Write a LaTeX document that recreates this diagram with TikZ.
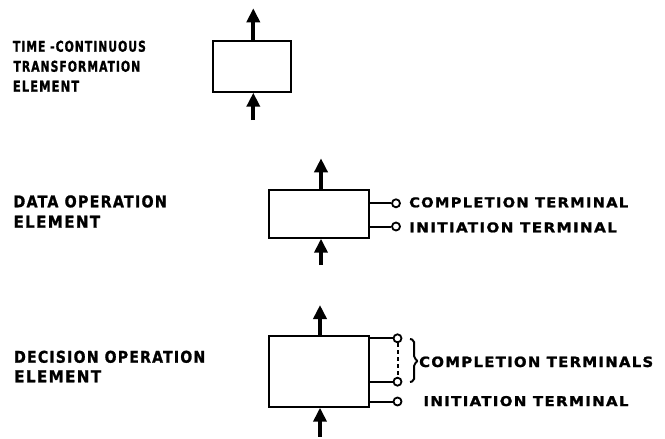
\documentclass[tikz,border=0pt]{standalone}
\usepackage{fontspec}
\usepackage{graphicx}
\usetikzlibrary{arrows.meta}
\newfontfamily\lettering{DejaVu Sans Condensed}[LetterSpace=8,FakeBold=1.2]
% stencil-style caption set to a given width and cap height
\newcommand\stencil[3]{\resizebox{#1}{#2}{\lettering\bfseries #3}}
\begin{document}
\begin{tikzpicture}[x=1pt,y=-1pt,
  element/.style={draw, line width=2pt, inner sep=0pt, minimum width=#1},
  flow/.style={line width=4pt, -{Triangle[width=13pt,length=14pt]}},
  lead/.style={line width=2pt},
  terminal/.style={circle, draw, line width=1.8pt, fill=white, inner sep=0pt, minimum size=8pt},
  caption/.style={inner sep=0pt, anchor=base west}]
\useasboundingbox (0,0) rectangle (665,439);

% --- time-continuous transformation element
\node[element=78pt, minimum height=51pt] (b1) at (251.7,66.2) {};
\coordinate (o1) at (253.3,8.3);
\coordinate (i1) at (253.3,120);
\draw[flow] (b1.north -| o1) -- (o1);
\draw[flow] (i1) -- (b1.south -| i1);
\node[caption] (t1a) at (12.7,51.7) {\stencil{133pt}{11pt}{TIME -CONTINUOUS}};
\node[caption] (t1b) at (13.3,71.7) {\stencil{126.7pt}{11pt}{TRANSFORMATION}};
\node[caption] (t1c) at (12.7,91.7) {\stencil{66.3pt}{11pt}{ELEMENT}};

% --- data operation element
\node[element=99.5pt, minimum height=47.7pt] (b2) at (318.75,213.85) {};
\coordinate (o2) at (321,158.3);
\coordinate (i2) at (321,265);
\draw[flow] (b2.north -| o2) -- (o2);
\draw[flow] (i2) -- (b2.south -| i2);
\node[terminal] (c2a) at (396,203.3) {};
\node[terminal] (c2b) at (396,226.5) {};
\draw[lead] (b2.east |- c2a) -- (c2a);
\draw[lead] (b2.east |- c2b) -- (c2b);
\node[caption] (r2a) at (409,207.3) {\stencil{219pt}{10pt}{COMPLETION TERMINAL}};
\node[caption] (r2b) at (409,232.3) {\stencil{207.7pt}{10pt}{INITIATION TERMINAL}};
\node[caption] (t2a) at (13.3,207.3) {\stencil{153.3pt}{12pt}{DATA OPERATION}};
\node[caption] (t2b) at (13.3,227.7) {\stencil{86.7pt}{12pt}{ELEMENT}};

% --- decision operation element
\node[element=99.5pt, minimum height=70.7pt] (b3) at (318.75,371.35) {};
\coordinate (o3) at (320,305);
\coordinate (i3) at (320,436.7);
\draw[flow] (b3.north -| o3) -- (o3);
\draw[flow] (i3) -- (b3.south -| i3);
\node[terminal] (c3a) at (397.5,338.3) {};
\node[terminal] (c3b) at (397.5,381.7) {};
\node[terminal] (c3c) at (397.5,401.5) {};
\draw[lead] (b3.east |- c3a) -- (c3a);
\draw[lead] (b3.east |- c3b) -- (c3b);
\draw[lead] (b3.east |- c3c) -- (c3c);
\draw[line width=2pt, dash pattern=on 4pt off 3pt] (c3a.south) -- (c3b.north);
% brace grouping the completion terminals
\draw[line width=2pt, rounded corners=2pt]
  (410,339) -- (414,340) -- (414,358) -- (418,361) -- (414,364) -- (414,381) -- (410,382);
\node[caption] (r3a) at (419,367) {\stencil{234pt}{10.5pt}{COMPLETION TERMINALS}};
\node[caption] (r3b) at (423.3,406) {\stencil{205pt}{10pt}{INITIATION TERMINAL}};
\node[caption] (t3a) at (14,362.7) {\stencil{191pt}{12pt}{DECISION OPERATION}};
\node[caption] (t3b) at (14,382.3) {\stencil{87pt}{12pt}{ELEMENT}};
\end{tikzpicture}
\end{document}
